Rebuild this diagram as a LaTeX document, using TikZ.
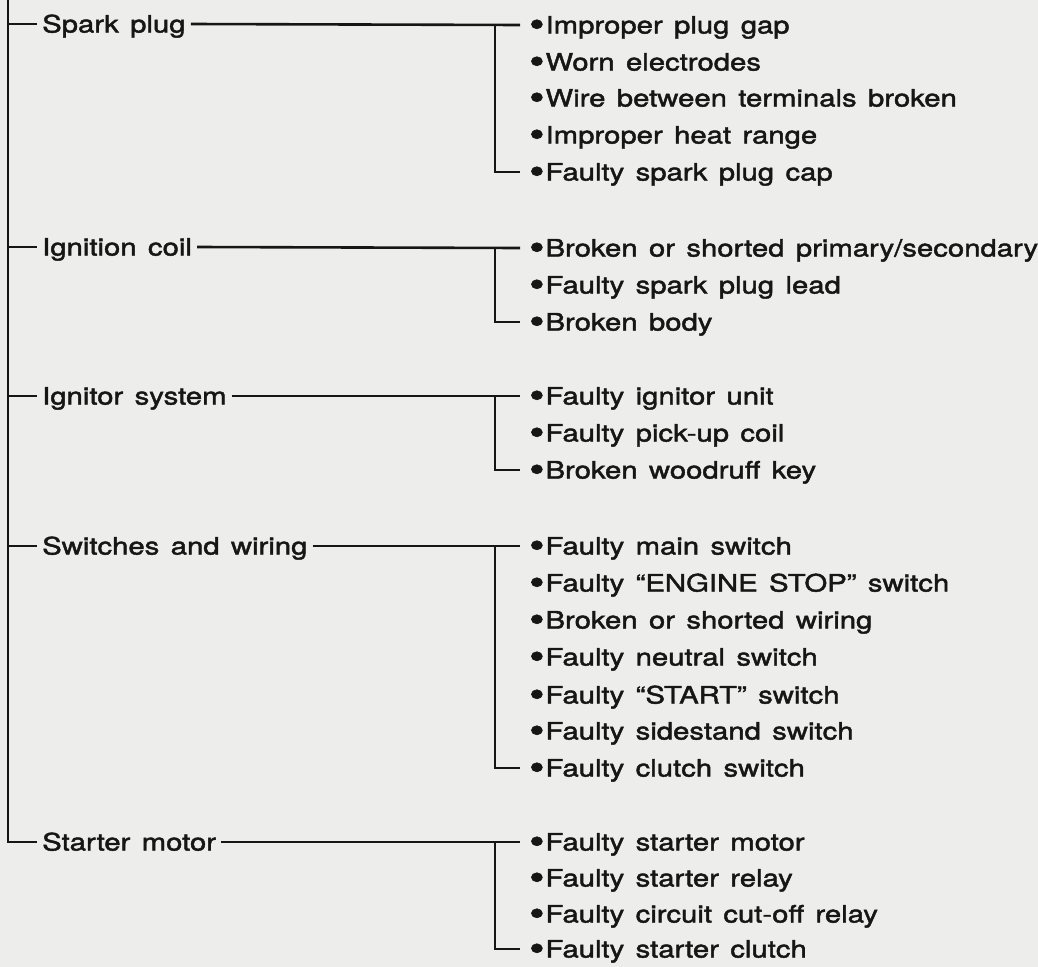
\documentclass[tikz,border=0pt]{standalone}
\usepackage{fontspec}
\setmainfont{TeX Gyre Heros}[FakeStretch=1.22,FakeBold=1.8,WordSpace=1.4]
\definecolor{paper}{RGB}{237,237,235}
\definecolor{ink}{RGB}{22,22,22}
\begin{document}
\begin{tikzpicture}[x=1bp,y=-1bp,
  every node/.style={font=\fontsize{24bp}{28bp}\selectfont, text=ink, inner ysep=0pt, text height=17bp, text depth=0pt},
  cat/.style={anchor=west, inner xsep=5bp},
  item/.style={anchor=west, inner xsep=9bp},
  wire/.style={draw=ink, line width=2.6bp}]
\fill[paper] (0,0) rectangle (1038,967);
\useasboundingbox (0,0) rectangle (1038,967);
\newcommand{\bl}{\raisebox{-3.2bp}{\scalebox{1.5}{\textbullet}}\hspace{1bp}}
% categories
\node[cat] (sp) at (37,24) {Spark plug};
\node[cat] (ic) at (37,247) {Ignition coil};
\node[cat] (is) at (37,396) {Ignitor system};
\node[cat] (sw) at (37,546) {Switches and wiring};
\node[cat] (sm) at (37,842) {Starter motor};
% items
\node[item] (sp1) at (520,25) {\bl Improper plug gap};
\node[item] (sp2) at (520,62) {\bl Worn electrodes};
\node[item] (sp3) at (520,98) {\bl Wire between terminals broken};
\node[item] (sp4) at (520,135) {\bl Improper heat range};
\node[item] (sp5) at (520,172) {\bl Faulty spark plug cap};
\node[item] (ic1) at (520,248) {\bl Broken or shorted primary/secondary};
\node[item] (ic2) at (520,285) {\bl Faulty spark plug lead};
\node[item] (ic3) at (520,322) {\bl Broken body};
\node[item] (is1) at (520,396) {\bl Faulty ignitor unit};
\node[item] (is2) at (520,433) {\bl Faulty pick-up coil};
\node[item] (is3) at (520,470) {\bl Broken woodruff key};
\node[item] (sw1) at (520,546) {\bl Faulty main switch};
\node[item] (sw2) at (520,583) {\bl Faulty ``ENGINE STOP'' switch};
\node[item] (sw3) at (520,620) {\bl Broken or shorted wiring};
\node[item] (sw4) at (520,657) {\bl Faulty neutral switch};
\node[item] (sw5) at (520,695) {\bl Faulty ``START'' switch};
\node[item] (sw6) at (520,731) {\bl Faulty sidestand switch};
\node[item] (sw7) at (520,768) {\bl Faulty clutch switch};
\node[item] (sm1) at (520,842) {\bl Faulty starter motor};
\node[item] (sm2) at (520,878) {\bl Faulty starter relay};
\node[item] (sm3) at (520,914) {\bl Faulty circuit cut-off relay};
\node[item] (sm4) at (520,949) {\bl Faulty starter clutch};
% trunk
\coordinate (trunk) at (8,-2);
\draw[wire] (trunk) |- (sm.west);
\foreach \c in {sp,ic,is,sw}{\draw[wire] (trunk |- \c.west) -- (\c.west);}
% branches
\coordinate (bx) at (495,0);
\draw[wire] (sp.east) -- (sp1.west);
\draw[wire] (bx |- sp1.west) |- (sp5.west);
\draw[wire] (ic.east) -- (ic1.west);
\draw[wire] (bx |- ic1.west) |- (ic3.west);
\draw[wire] (is.east) -- (is1.west);
\draw[wire] (bx |- is1.west) |- (is3.west);
\draw[wire] (sw.east) -- (sw1.west);
\draw[wire] (bx |- sw1.west) |- (sw7.west);
\draw[wire] (sm.east) -- (sm1.west);
\draw[wire] (bx |- sm1.west) |- (sm4.west);
\end{tikzpicture}
\end{document}
